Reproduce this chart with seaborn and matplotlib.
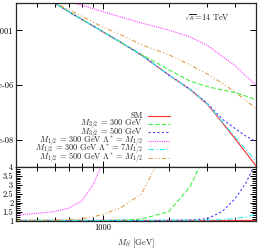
import matplotlib
matplotlib.use("Agg")
import matplotlib.pyplot as plt
import matplotlib.ticker as mticker
from matplotlib.lines import Line2D
import seaborn as sns
import numpy as np

nan = np.nan

# invariant mass bins (GeV)
mtt = [400, 500, 600, 700, 800, 900, 1000, 1200, 1500, 2000, 2500, 3000, 3500, 4000, 4500, 5000]

# top panel: differential cross section
xs_sm = [6.6e-3, 2.3e-3, 1.0e-3, 4.7e-4, 2.5e-4, 1.45e-4, 8.8e-5, 3.7e-5, 1.23e-5, 2.3e-6, 6.8e-7, 1.95e-7, 4.3e-8, 1.12e-8, 3.3e-9, 1.1e-9]
xs_g300 = [6.6e-3, 2.3e-3, 1.0e-3, 4.7e-4, 2.5e-4, 1.45e-4, 8.8e-5, 3.75e-5, 1.3e-5, 3.6e-6, 1.38e-6, 8.7e-7, 6.6e-7, 5.3e-7, 3.9e-7, 2.9e-7]
xs_g500 = [6.6e-3, 2.3e-3, 1.0e-3, 4.7e-4, 2.5e-4, 1.45e-4, 8.8e-5, 3.7e-5, 1.23e-5, 2.32e-6, 7.0e-7, 2.1e-7, 5.7e-8, 2.6e-8, 1.35e-8, 8.3e-9]
xs_h300 = [8.0e-3, 3.0e-3, 1.6e-3, 1.13e-3, 8.2e-4, 6.2e-4, 4.8e-4, 3.1e-4, 1.85e-4, 1.02e-4, 5.7e-5, 2.8e-5, 1.13e-5, 5.2e-6, 2.1e-6, 1.0e-6]
xs_h300_7 = [6.6e-3, 2.3e-3, 1.0e-3, 4.7e-4, 2.5e-4, 1.45e-4, 8.8e-5, 3.7e-5, 1.23e-5, 2.31e-6, 6.9e-7, 2.0e-7, 4.6e-8, 1.3e-8, 4.3e-9, 1.6e-9]
xs_h500 = [7.0e-3, 2.4e-3, 1.05e-3, 5.6e-4, 3.3e-4, 2.0e-4, 1.3e-4, 7.0e-5, 2.97e-5, 1.28e-5, 5.4e-6, 2.5e-6, 1.17e-6, 5.6e-7, 2.7e-7, 1.37e-7]

# bottom panel: ratio to SM
r_sm = [1.0] * 16
r_g300 = [1.0, 1.0, 1.0, 1.0, 1.0, 1.0, 1.0, 1.02, 1.08, 1.5, 2.9, 5.0, nan, nan, nan, nan]
r_g500 = [1.0, 1.0, 1.0, 1.0, 1.0, 1.0, 1.0, 1.0, 1.0, 1.01, 1.03, 1.1, 1.5, 2.2, 3.1, 4.3]
r_h300 = [1.3, 1.4, 1.5, 1.7, 2.1, 3.0, 4.3, nan, nan, nan, nan, nan, nan, nan, nan, nan]
r_h300_7 = [1.0, 1.0, 1.0, 1.0, 1.0, 1.0, 1.0, 1.0, 1.0, 1.01, 1.01, 1.02, 1.05, 1.1, 1.2, 1.35]
r_h500 = [1.0, 1.01, 1.02, 1.05, 1.1, 1.2, 1.35, 1.7, 2.5, 5.5, nan, nan, nan, nan, nan, nan]

labels = ["SM",
          r"$M_{3/2}$ = 300 GeV",
          r"$M_{3/2}$ = 500 GeV",
          r"$M_{1/2}$ = 300 GeV $\Lambda^{*}$ = $M_{1/2}$",
          r"$M_{1/2}$ = 300 GeV $\Lambda^{*}$ = 7$M_{1/2}$",
          r"$M_{1/2}$ = 500 GeV $\Lambda^{*}$ = $M_{1/2}$"]
top_series = [xs_sm, xs_g300, xs_g500, xs_h300, xs_h300_7, xs_h500]
ratio_series = [r_sm, r_g300, r_g500, r_h300, r_h300_7, r_h500]
colors = ["#ff3030", "#40f040", "#4040ff", "#ff40ff", "#30f0f0", "#e0a050"]
styles = ["-", (0, (4, 2)), (0, (2, 2)), (0, (1, 1)), (0, (5, 2, 1, 2)), (0, (4, 2, 1, 2, 1, 2))]

sns.set_style("ticks")
plt.rcParams['font.family'] = 'serif'
plt.rcParams['font.serif'] = ['cmr10']
plt.rcParams['mathtext.fontset'] = 'cm'
plt.rcParams['axes.formatter.use_mathtext'] = True
plt.rcParams['font.size'] = 6
plt.rcParams['axes.linewidth'] = 0.9

W, H = 259, 248
fig = plt.figure(figsize=(W / 100, H / 100), dpi=100)
ax1 = fig.add_axes([16 / W, 1 - 167 / H, 240 / W, 164 / H])
ax2 = fig.add_axes([16 / W, 1 - 221 / H, 240 / W, 54 / H])

for vals, ratio, c, ls in zip(top_series, ratio_series, colors, styles):
    sns.lineplot(x=mtt, y=vals, ax=ax1, color=c, linestyle=ls, lw=0.8)
    sns.lineplot(x=mtt, y=ratio, ax=ax2, color=c, linestyle=ls, lw=0.8)

for ax in (ax1, ax2):
    ax.set_xscale("log")
    ax.set_xlim(400, 5000)
    ax.xaxis.set_major_locator(mticker.FixedLocator([1000]))
    ax.xaxis.set_minor_locator(mticker.FixedLocator([500, 600, 700, 800, 900, 2000, 3000, 4000]))
    ax.xaxis.set_minor_formatter(mticker.NullFormatter())
    ax.tick_params(which="both", direction="in", top=True, right=True, width=0.7, colors="black", pad=2)
    ax.tick_params(which="major", length=4)
    ax.tick_params(which="minor", length=3)
    ax.set_ylabel("")

ax1.set_yscale("log")
ax1.set_ylim(1e-9, 1e-3)
ax1.yaxis.set_major_locator(mticker.FixedLocator([1e-4, 1e-6, 1e-8]))
ax1.yaxis.set_major_formatter(mticker.FixedFormatter(["0.0001", "1e-06", "1e-08"]))
ax1.yaxis.set_minor_locator(mticker.NullLocator())
ax1.set_xticklabels([])
ax1.set_xlabel("")
ax1.text(0.796, 0.909, r"$\sqrt{s}$=14 TeV", transform=ax1.transAxes, ha="center", va="center")

# gnuplot-style key: right-aligned text, sample line on the right, fixed row pitch
def ax_x(px):
    return (px - 16) / 240

def ax_y(py):
    return 1 - (py - 3) / 164

for i, (lab, c, ls) in enumerate(zip(labels, colors, styles)):
    yc = 115.5 + 8.4 * i
    ax1.text(ax_x(143), ax_y(yc + 2.8), lab, transform=ax1.transAxes, ha="right", va="baseline")
    ax1.add_line(Line2D([ax_x(148), ax_x(170)], [ax_y(yc), ax_y(yc)], transform=ax1.transAxes,
                        color=c, linestyle=ls, lw=0.8))

ax2.set_ylim(0.97, 4.0)
ax2.yaxis.set_major_locator(mticker.FixedLocator([1, 1.5, 2, 2.5, 3, 3.5, 4]))
ax2.yaxis.set_major_formatter(mticker.FixedFormatter(["1", "1.5", "2", "2.5", "3", "3.5", "4"]))
ax2.yaxis.set_minor_locator(mticker.MultipleLocator(0.1))
ax2.xaxis.set_major_formatter(mticker.FixedFormatter(["1000"]))
ax2.set_xlabel(r"$M_{t\bar{t}}$ [GeV]", labelpad=3)

fig.savefig("out.png", dpi=100)
